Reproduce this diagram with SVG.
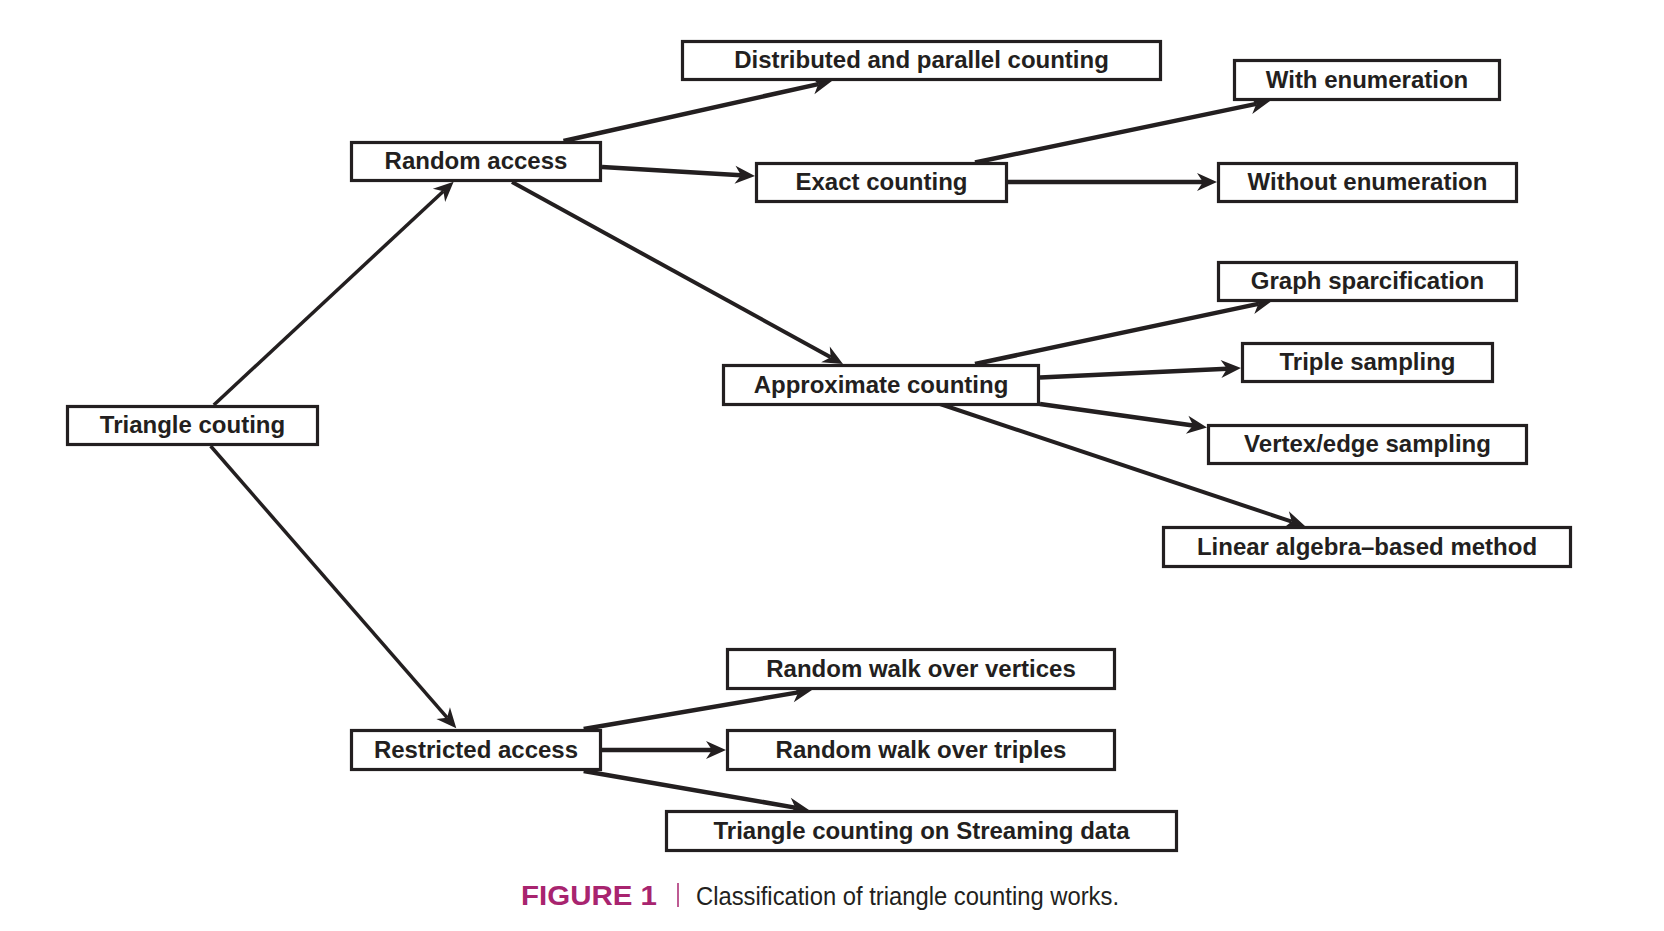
<svg xmlns="http://www.w3.org/2000/svg" width="1664" height="931" viewBox="0 0 1664 931">
<style>
.box{fill:#fff;stroke:#231f20;stroke-width:3.2}
.lbl{font-family:"Liberation Sans",Arial,sans-serif;font-weight:bold;font-size:24px;fill:#231f20;text-anchor:middle}
.edge{stroke:#231f20;stroke-width:4.5;fill:none;marker-end:url(#ah)}
.thin{stroke-width:3.5}
.mid{stroke-width:4}
</style>
<defs>
<marker id="ah" markerUnits="userSpaceOnUse" viewBox="-22 -10 24 20" markerWidth="24" markerHeight="20" refX="-14" refY="0" orient="auto">
<path d="M-20,-9 L0,0 L-20,9 L-14,0 Z" fill="#231f20"/>
</marker>
</defs>
<rect width="1664" height="931" fill="#fff"/>
<g id="connectors">
<line class="edge thin" x1="213.8" y1="405" x2="443.4" y2="191.2"/>
<line class="edge thin" x1="210.6" y1="446" x2="447.1" y2="717.7"/>
<line class="edge" x1="563.5" y1="141" x2="818.3" y2="84.1"/>
<line class="edge" x1="602" y1="167" x2="741" y2="175.2"/>
<line class="edge mid" x1="512" y1="182" x2="830.7" y2="357.2"/>
<line class="edge" x1="975" y1="162.5" x2="1256.3" y2="103.9"/>
<line class="edge" x1="1008" y1="182" x2="1203" y2="182"/>
<line class="edge" x1="975" y1="364" x2="1258.3" y2="303.9"/>
<line class="edge" x1="1040" y1="377.5" x2="1227" y2="368.7"/>
<line class="edge" x1="1040" y1="404" x2="1193.1" y2="425.6"/>
<line class="edge mid" x1="940" y1="404" x2="1291.7" y2="521.6"/>
<line class="edge" x1="583.7" y1="729" x2="798.2" y2="692.4"/>
<line class="edge" x1="602" y1="750" x2="712" y2="750"/>
<line class="edge" x1="583.7" y1="771" x2="795.2" y2="807.6"/>
</g>
<g id="n-triangle"><rect class="box" x="67.5" y="406.5" width="250" height="38"/><text class="lbl" x="192.5" y="433">Triangle couting</text></g>
<g id="n-random"><rect class="box" x="351.5" y="142.5" width="249" height="38"/><text class="lbl" x="476" y="169">Random access</text></g>
<g id="n-restricted"><rect class="box" x="351.5" y="730.5" width="249" height="39"/><text class="lbl" x="476" y="757.5">Restricted access</text></g>
<g id="n-distributed"><rect class="box" x="682.5" y="41.5" width="478" height="38"/><text class="lbl" x="921.5" y="68">Distributed and parallel counting</text></g>
<g id="n-exact"><rect class="box" x="756.5" y="163.5" width="250" height="38"/><text class="lbl" x="881.5" y="190">Exact counting</text></g>
<g id="n-approx"><rect class="box" x="723.5" y="365.5" width="315" height="39"/><text class="lbl" x="881" y="392.5">Approximate counting</text></g>
<g id="n-with"><rect class="box" x="1234.5" y="60.5" width="265" height="39"/><text class="lbl" x="1367" y="87.5">With enumeration</text></g>
<g id="n-without"><rect class="box" x="1218.5" y="163.5" width="298" height="38"/><text class="lbl" x="1367.5" y="190">Without enumeration</text></g>
<g id="n-graph"><rect class="box" x="1218.5" y="262.5" width="298" height="38"/><text class="lbl" x="1367.5" y="289">Graph sparcification</text></g>
<g id="n-triple"><rect class="box" x="1242.5" y="343.5" width="250" height="38"/><text class="lbl" x="1367.5" y="370">Triple sampling</text></g>
<g id="n-vertex"><rect class="box" x="1208.5" y="425.5" width="318" height="38"/><text class="lbl" x="1367.5" y="452">Vertex/edge sampling</text></g>
<g id="n-linear"><rect class="box" x="1163.5" y="527.5" width="407" height="39"/><text class="lbl" x="1367" y="554.5">Linear algebra–based method</text></g>
<g id="n-rwv"><rect class="box" x="727.5" y="649.5" width="387" height="39"/><text class="lbl" x="921" y="676.5">Random walk over vertices</text></g>
<g id="n-rwt"><rect class="box" x="727.5" y="730.5" width="387" height="39"/><text class="lbl" x="921" y="757.5">Random walk over triples</text></g>
<g id="n-stream"><rect class="box" x="666.5" y="811.5" width="510" height="39"/><text class="lbl" x="921.5" y="838.5">Triangle counting on Streaming data</text></g>
<g id="caption">
<text x="521" y="904.5" font-family="'Liberation Sans',Arial,sans-serif" font-weight="bold" font-size="28" fill="#a8246f" textLength="136" lengthAdjust="spacingAndGlyphs">FIGURE 1</text>
<line x1="678" y1="883" x2="678" y2="907" stroke="#a8246f" stroke-width="1.5"/>
<text x="696" y="904.5" font-family="'Liberation Sans',Arial,sans-serif" font-size="26" fill="#231f20" textLength="423" lengthAdjust="spacingAndGlyphs">Classification of triangle counting works.</text>
</g>
</svg>
